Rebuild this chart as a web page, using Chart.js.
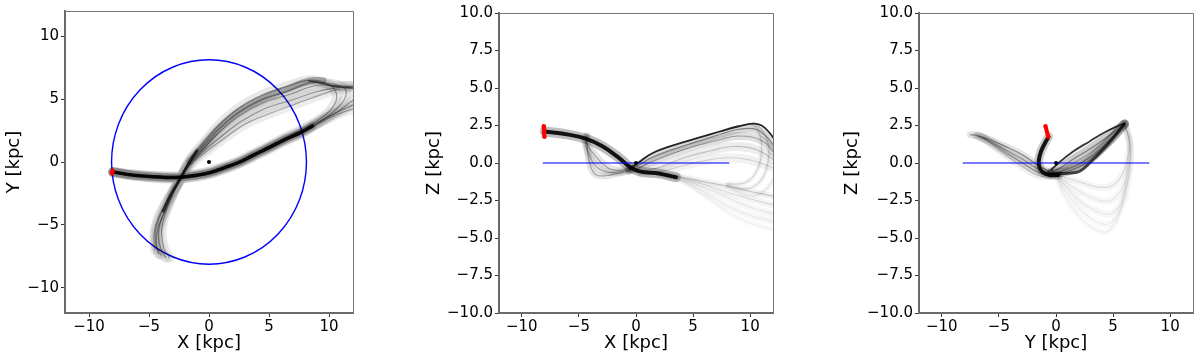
<!DOCTYPE html>
<html><head><meta charset="utf-8">
<script src="https://cdn.jsdelivr.net/npm/chart.js@4.4.1/dist/chart.umd.min.js"></script>
<style>
html,body{margin:0;padding:0;background:#fff;width:1200px;height:360px;overflow:hidden}
.p{position:absolute;top:0;width:400px;height:360px}
canvas{display:block}
</style></head><body>
<div class="p" style="left:0"><canvas id="c1" width="400" height="360"></canvas></div>
<div class="p" style="left:400px"><canvas id="c2" width="400" height="360"></canvas></div>
<div class="p" style="left:800px"><canvas id="c3" width="400" height="360"></canvas></div>
<script>
// ---------- axis ticks ----------
const xTickValues = [-10, -5, 0, 5, 10];
const xyVerticalTicks = [-10, -5, 0, 5, 10];
const zTickValues = [-10, -7.5, -5, -2.5, 0, 2.5, 5, 7.5, 10];
const solarRadius = 8.12;
const galacticCentre = [0, 0, 0];

// ---------- present-day positions (red) ----------
const sunX = [-8.08, -8.06, -8.05, -8.04, -8.02];
const sunY = [-0.92, -0.86, -0.80, -0.74, -0.68];
const sunZ = [2.45, 2.28, 2.10, 1.93, 1.75];

// ---------- X-Y projection (orbit tracks) ----------
const xyCoreA = [[-8.0,-0.8],[-6.25,-1.05],[-4.0,-1.2],[-2.4,-1.21],[-1.0,-1.05],[0.1,-0.84],[1.3,-0.45],[2.56,0.0],[3.7,0.55],[4.77,1.04],[6.42,1.83],[7.66,2.35],[8.6,2.85]];
const xyCoreB = [[-1.0,0.9],[-1.6,0.0],[-2.4,-1.3],[-3.2,-2.6],[-3.8,-3.9]];
const xyCaustic = [[12.3,5.88],[11,5.95],[10,6.1],[9,6.35],[8.3,6.45]];
const xyOrbit1 = [[-8.0,-0.8],[-6.25,-1.0],[-4.0,-1.12],[-2.4,-1.1],[-1.0,-0.95],[0.1,-0.72],[1.3,-0.33],[2.56,0.12],[3.7,0.68],[4.77,1.17],[6.42,1.98],[7.66,2.55],[9.0,3.25],[10.0,4.0],[10.6,4.9],[10.5,5.7],[9.8,6.25],[8.4,6.5],[6.5,6.0],[4.5,5.35],[2.5,4.3],[0.8,2.9],[-0.6,1.35],[-1.6,0.2],[-2.4,-1.3],[-3.2,-2.6],[-4.0,-4.1],[-4.45,-5.4],[-4.45,-6.5],[-4.2,-7.3]];
const xyOrbit2 = [[-8.0,-0.8],[-6.25,-1.08],[-4.0,-1.25],[-2.4,-1.28],[-1.0,-1.12],[0.1,-0.9],[1.3,-0.52],[2.56,-0.06],[3.7,0.48],[4.77,0.98],[6.42,1.78],[7.66,2.3],[9.2,3.2],[10.5,4.1],[11.3,5.0],[11.4,5.7],[10.8,6.1],[9.5,6.3],[8.3,6.3],[6.5,5.6],[4.5,5.0],[2.5,3.95],[0.8,2.6],[-0.6,1.15],[-1.6,0.08],[-2.4,-1.3],[-3.1,-2.6],[-3.8,-4.1],[-4.2,-5.5],[-4.05,-6.8],[-3.6,-7.6]];
const xyOrbit3 = [[-8.0,-0.8],[-6.25,-1.1],[-4.0,-1.3],[-2.4,-1.32],[-1.0,-1.15],[0.1,-0.95],[1.3,-0.58],[2.56,-0.12],[3.7,0.42],[4.77,0.92],[6.42,1.7],[7.66,2.25],[9.5,3.3],[11,4.2],[12.2,5.1],[12.7,5.8],[12,6.0],[10.5,6.05],[9,6.1],[6.8,5.4],[4.5,4.7],[2.5,3.65],[0.8,2.3],[-0.6,0.95],[-1.6,-0.05],[-2.4,-1.35],[-3.0,-2.5],[-3.7,-4.0],[-4.3,-5.4],[-4.35,-6.7],[-4.0,-7.4]];
const xyOrbit4 = [[-8.0,-0.8],[-6.25,-1.02],[-4.0,-1.17],[-2.4,-1.18],[-1.0,-1.0],[0.1,-0.78],[1.3,-0.4],[2.56,0.05],[3.7,0.6],[4.77,1.1],[6.42,1.9],[7.66,2.45],[9.5,3.4],[11,4.1],[12.5,4.8],[13.5,5.6],[12.5,6.0],[11,5.95],[9,5.6],[6.8,4.9],[4.8,4.3],[2.8,3.3],[1.0,2.0],[-0.6,0.75],[-1.6,-0.15],[-2.35,-1.3],[-3.0,-2.6],[-3.6,-4.0],[-3.95,-5.5],[-3.75,-6.9],[-3.3,-7.6]];
const xyOrbit5 = [[-8.0,-0.8],[-6.25,-1.06],[-4.0,-1.22],[-2.4,-1.24],[-1.0,-1.08],[0.1,-0.85],[1.3,-0.47],[2.56,-0.02],[3.7,0.52],[4.77,1.02],[6.42,1.8],[7.66,2.33],[9.5,3.25],[11,3.9],[12.5,4.4],[14,5.0],[13,5.7],[11,5.8],[9.2,5.3],[7.2,4.6],[5.2,3.9],[3.0,3.0],[1.0,1.7],[-0.6,0.55],[-1.6,-0.3],[-2.3,-1.4],[-3.3,-2.8],[-4.2,-4.4],[-4.6,-5.8],[-4.5,-7.0]];
const xyBandTop = [[9.5,6.45],[8.4,6.45],[6.5,5.8],[4.5,5.05],[2.5,4.0],[0.8,2.65],[-0.6,1.15],[-1.6,0.05]];

// ---------- X-Z projection ----------
const xzSunBand = [[-8.0,2.1],[-5.9,1.89],[-4.4,1.62],[-2.94,1.11],[-1.47,0.33],[-0.6,-0.22],[0.3,-0.56],[2.06,-0.71],[3.5,-0.95]];
const xzFan1 = [[2.06,-0.71],[4,-0.95],[6,-1.25],[8,-1.55],[10,-1.9],[12.3,-2.25]];
const xzFan2 = [[2.06,-0.71],[4,-1.0],[6,-1.45],[8,-1.95],[10,-2.4],[12.3,-2.85]];
const xzFan3 = [[2.06,-0.72],[4,-1.05],[6,-1.65],[8,-2.3],[10,-2.95],[12.3,-3.45]];
const xzFan4 = [[2.06,-0.72],[4,-1.15],[6,-1.95],[8,-2.85],[10,-3.5],[12.3,-3.95]];
const xzFan5 = [[2.06,-0.73],[4,-1.2],[6,-2.2],[8,-3.25],[10,-4.0],[12.3,-4.5]];
const xzArc1 = [[8,-1.5],[9.8,-1.7],[11.0,-1.1],[11.6,0.2],[11.5,1.5],[10.8,2.4],[10.3,2.62]];
const xzArc2 = [[8,-1.4],[9.6,-1.3],[10.6,-0.5],[11.0,0.8],[10.8,2.0],[10.2,2.6]];
const xzArc3 = [[8,-1.6],[10.2,-2.2],[11.6,-1.6],[12.3,-0.5]];
const xzUpper1 = [[12.3,1.4],[11.6,2.1],[11.0,2.5],[10.3,2.62],[9.0,2.45],[7.35,2.1],[4.41,1.44],[1.47,0.67],[0,-0.1],[-0.6,-0.35]];
const xzUpper2 = [[12.3,0.9],[11.5,1.7],[10.5,2.25],[9,2.25],[7.35,1.9],[4.41,1.2],[1.47,0.4],[0,-0.25],[-0.6,-0.45]];
const xzUpper3 = [[12.3,0.5],[11,1.5],[9,1.8],[7.35,1.55],[4.41,0.95],[1.47,0.1],[0,-0.4],[-0.6,-0.5]];
const xzUpper4 = [[12.3,0.1],[10.5,0.9],[8.5,1.1],[6.5,0.8],[4.41,0.4],[2,-0.3],[0.3,-0.55]];
const xzUpper5 = [[12.3,-0.4],[10,0.2],[8,0.35],[6,0.15],[4,-0.2],[2,-0.6],[0.5,-0.62]];
const xzLobe1 = [[-0.5,-0.35],[-1.5,-0.5],[-2.4,-0.35],[-3.2,0.15],[-3.9,0.8],[-4.35,1.35],[-4.3,1.8]];
const xzLobe2 = [[-0.5,-0.5],[-1.5,-0.68],[-2.65,-0.85],[-3.5,-0.78],[-4.0,-0.2],[-4.25,0.9],[-4.3,1.7]];
const xzLobe3 = [[-0.5,-0.45],[-1.5,-0.6],[-2.4,-0.62],[-3.3,-0.35],[-4.0,0.35],[-4.4,1.2],[-4.4,1.75]];

// ---------- Y-Z projection ----------
const yzStem = [[-0.65,1.75],[-0.95,1.35],[-1.3,0.8],[-1.5,0.2],[-1.45,-0.3],[-1.15,-0.62],[-0.6,-0.78],[0.2,-0.8]];
const yzDown1 = [[0,-0.8],[1.2,-1.05],[2.4,-1.35],[3.6,-1.6],[4.8,-1.55],[5.7,-0.9],[6.3,0.4],[6.4,1.6],[6.0,2.6]];
const yzDown2 = [[0,-0.8],[1.0,-1.35],[2.3,-2.0],[3.6,-2.45],[4.8,-2.5],[5.8,-1.7],[6.4,-0.3],[6.5,1.3],[6.0,2.6]];
const yzDown3 = [[0,-0.8],[0.9,-1.6],[2.2,-2.6],[3.5,-3.2],[4.7,-3.4],[5.7,-2.7],[6.35,-0.9],[6.55,1.0],[6.0,2.6]];
const yzDown4 = [[0,-0.75],[0.75,-1.8],[2.0,-3.0],[3.4,-3.85],[4.65,-4.05],[5.65,-3.1],[6.3,-1.2],[6.5,0.8],[6.0,2.6]];
const yzDown5 = [[0,-0.7],[0.6,-2.0],[1.76,-3.33],[3.2,-4.33],[4.55,-4.56],[5.58,-3.33],[6.3,-0.22],[6.46,1.55],[6.0,2.6]];
const yzWing1 = [[6.0,2.65],[4.4,2.1],[2.94,1.44],[1.47,0.75],[0.3,0.05],[-0.4,-0.45]];
const yzWing2 = [[6.0,2.6],[4.5,1.75],[3.0,0.95],[1.5,0.25],[0.3,-0.35],[-0.4,-0.6]];
const yzWing3 = [[6.0,2.6],[4.6,1.45],[3.2,0.5],[1.8,-0.15],[0.5,-0.55],[-0.4,-0.7]];
const yzWing4 = [[6.0,2.6],[5.0,1.65],[4.0,0.8],[3.0,0.05],[2.05,-0.56],[1.0,-0.68],[0,-0.72],[-0.6,-0.75]];
const yzWing5 = [[6.0,2.6],[4.8,1.55],[3.6,0.65],[2.4,-0.1],[1.2,-0.5],[0,-0.7],[-0.5,-0.72]];
const yzLeft1 = [[-0.5,-0.6],[-1.47,-0.2],[-2.94,0.55],[-4.41,1.11],[-6.0,1.62],[-6.9,1.85],[-7.5,1.88]];
const yzLeft2 = [[-0.5,-0.68],[-1.47,-0.45],[-2.94,0.25],[-4.41,0.85],[-5.9,1.5],[-7.0,1.82]];
const yzLeft3 = [[-0.5,-0.75],[-1.47,-0.65],[-2.94,0.0],[-4.41,0.7],[-5.88,1.44],[-6.8,1.8]];
const yzLeft4 = [[-0.3,-0.85],[-1.47,-0.85],[-2.94,-0.22],[-4.41,0.55],[-5.7,1.3],[-6.5,1.75]];

// ---------- helpers ----------
Chart.defaults.font.family = "'DejaVu Sans', sans-serif";
function pts(arr){ return arr.map(p => ({x: p[0], y: p[1]})); }
function track(arr, color, width, tension){
  return {data: pts(arr), showLine: true, borderColor: color, backgroundColor: color,
    borderWidth: width, pointRadius: 0, pointHoverRadius: 0,
    tension: tension === undefined ? 0.4 : tension, clip: 0,
    borderCapStyle: 'round', borderJoinStyle: 'round'};
}
// an orbit bundle: a thin line plus a soft, wide halo
function band(arr, thinAlpha, wideAlpha, wideWidth){
  return [track(arr, 'rgba(0,0,0,' + thinAlpha + ')', 1.2),
          track(arr, 'rgba(0,0,0,' + wideAlpha + ')', wideWidth)];
}
function dots(xs, ys, color, r){
  return {data: xs.map((x, i) => ({x: x, y: ys[i]})), showLine: false, pointRadius: r,
    pointHoverRadius: r, pointBackgroundColor: color, pointBorderWidth: 0,
    borderColor: color, backgroundColor: color, clip: 0};
}
const fmtInt = v => (v < 0 ? '\u2212' : '') + Math.abs(v);
const fmt1 = v => (v < 0 ? '\u2212' : '') + Math.abs(v).toFixed(1);

const framePlugin = { id: 'frame', afterDatasetsDraw(chart){
  const {ctx, chartArea: a} = chart;
  ctx.save(); ctx.strokeStyle = '#777'; ctx.lineWidth = 1;
  ctx.beginPath(); ctx.moveTo(a.left, a.top + 0.5); ctx.lineTo(a.right + 0.5, a.top + 0.5);
  ctx.lineTo(a.right + 0.5, a.bottom); ctx.stroke(); ctx.restore();
}};
const circlePlugin = { id: 'solarCircle', beforeDatasetsDraw(chart){
  const xs = chart.scales.x, ys = chart.scales.y, ctx = chart.ctx;
  const cx = xs.getPixelForValue(galacticCentre[0]), cy = ys.getPixelForValue(galacticCentre[1]);
  const rx = Math.abs(xs.getPixelForValue(solarRadius) - cx);
  const ry = Math.abs(ys.getPixelForValue(solarRadius) - cy);
  ctx.save(); ctx.beginPath(); ctx.ellipse(cx, cy, rx, ry, 0, 0, 2 * Math.PI);
  ctx.strokeStyle = '#0000ff'; ctx.lineWidth = 1.4; ctx.stroke(); ctx.restore();
}};

function makeChart(id, o){
  return new Chart(document.getElementById(id), {
    type: 'scatter',
    data: {datasets: o.datasets},
    options: {
      responsive: false, animation: false, events: [],
      layout: {padding: {top: o.top, right: o.right, left: 0, bottom: 0}},
      plugins: {legend: {display: false}, tooltip: {enabled: false}},
      scales: {
        x: {type: 'linear', min: -12, max: 12,
          afterBuildTicks: s => { s.ticks = xTickValues.map(v => ({value: v})); },
          afterFit: s => { s.height = 47; },
          ticks: {callback: v => fmtInt(v), color: '#000', font: {size: 15}, padding: 1, maxRotation: 0, autoSkip: false},
          grid: {display: true, drawOnChartArea: false, drawTicks: true, tickLength: 4, color: '#333'},
          border: {display: true, color: '#6a6a6a', width: 2},
          title: {display: true, text: o.xTitle, color: '#000', font: {size: 18}, padding: {top: 0, bottom: 6}}
        },
        y: {type: 'linear', min: o.yMin, max: o.yMax,
          afterBuildTicks: s => { s.ticks = o.yTicks.map(v => ({value: v})); },
          afterFit: s => { s.width = o.yWidth; },
          ticks: {callback: v => o.yFmt(v), color: '#000', font: {size: 15}, padding: 2, autoSkip: false},
          grid: {display: true, drawOnChartArea: false, drawTicks: true, tickLength: 4, color: '#333'},
          border: {display: true, color: '#6a6a6a', width: 2},
          title: {display: true, text: o.yTitle, color: '#000', font: {size: 18}, padding: {top: o.yTitlePad, bottom: 0}}
        }
      }
    },
    plugins: o.plugins
  });
}

// ---------- panel 1 : X-Y ----------
makeChart('c1', {
  top: 7, right: 47, yWidth: 65, yMin: -12, yMax: 12, yTicks: xyVerticalTicks, yFmt: fmtInt,
  xTitle: 'X [kpc]', yTitle: 'Y [kpc]', yTitlePad: 4,
  plugins: [circlePlugin, framePlugin],
  datasets: [
    dots(sunX, sunY, '#ff0000', 2),
    dots([galacticCentre[0]], [galacticCentre[1]], '#000', 2),
    track(xyCoreA, 'rgba(0,0,0,0.9)', 3.5),
    track(xyCoreA, 'rgba(0,0,0,0.2)', 8),
    track(xyCoreB, 'rgba(0,0,0,0.65)', 3),
    track(xyCaustic, 'rgba(0,0,0,0.65)', 1.3),
    track(xyBandTop, 'rgba(0,0,0,0.25)', 7),
    ...band(xyOrbit1, 0.35, 0.09, 10),
    ...band(xyOrbit2, 0.35, 0.09, 10),
    ...band(xyOrbit3, 0.35, 0.09, 10),
    ...band(xyOrbit4, 0.35, 0.09, 10),
    ...band(xyOrbit5, 0.3, 0.07, 10)
  ]
});

// ---------- panel 2 : X-Z ----------
makeChart('c2', {
  top: 13, right: 27, yWidth: 99, yMin: -10, yMax: 10, yTicks: zTickValues, yFmt: fmt1,
  xTitle: 'X [kpc]', yTitle: 'Z [kpc]', yTitlePad: 24,
  plugins: [framePlugin],
  datasets: [
    dots(sunX, sunZ, '#ff0000', 2.3),
    dots([galacticCentre[0]], [galacticCentre[2]], '#000', 2),
    track([[-solarRadius, 0], [solarRadius, 0]], 'rgba(0,0,255,0.7)', 1.5, 0),
    track(xzSunBand, 'rgba(0,0,0,0.9)', 4),
    track(xzSunBand, 'rgba(0,0,0,0.25)', 10),
    track(xzUpper1, 'rgba(0,0,0,0.85)', 1.8),
    ...band(xzUpper2, 0.4, 0.15, 8),
    ...band(xzUpper3, 0.3, 0.12, 8),
    ...band(xzUpper4, 0.2, 0.07, 9),
    ...band(xzUpper5, 0.15, 0.05, 9),
    ...band(xzLobe1, 0.3, 0.1, 8),
    ...band(xzLobe2, 0.3, 0.1, 7),
    ...band(xzLobe3, 0.3, 0.1, 7),
    ...band(xzFan1, 0.2, 0.05, 6),
    ...band(xzFan2, 0.12, 0.04, 7),
    ...band(xzFan3, 0.08, 0.03, 7),
    ...band(xzFan4, 0.07, 0.03, 7),
    ...band(xzFan5, 0.06, 0.02, 6),
    ...band(xzArc1, 0.15, 0.04, 5),
    ...band(xzArc2, 0.15, 0.04, 5),
    ...band(xzArc3, 0.08, 0.03, 5)
  ]
});

// ---------- panel 3 : Y-Z ----------
makeChart('c3', {
  top: 13, right: 7, yWidth: 119, yMin: -10, yMax: 10, yTicks: zTickValues, yFmt: fmt1,
  xTitle: 'Y [kpc]', yTitle: 'Z [kpc]', yTitlePad: 42,
  plugins: [framePlugin],
  datasets: [
    dots(sunY, sunZ, '#ff0000', 2.2),
    dots([galacticCentre[1]], [galacticCentre[2]], '#000', 2),
    track([[-solarRadius, 0], [solarRadius, 0]], 'rgba(0,0,255,0.7)', 1.5, 0),
    track(yzStem, 'rgba(0,0,0,0.9)', 4),
    track(yzStem, 'rgba(0,0,0,0.2)', 9),
    track(yzWing1, 'rgba(0,0,0,0.8)', 1.8),
    ...band(yzWing2, 0.4, 0.2, 9),
    ...band(yzWing3, 0.4, 0.2, 9),
    ...band(yzWing5, 0.4, 0.2, 9),
    track(yzWing4, 'rgba(0,0,0,0.7)', 3),
    ...band(yzLeft1, 0.4, 0.1, 7),
    ...band(yzLeft2, 0.3, 0.1, 8),
    ...band(yzLeft3, 0.3, 0.1, 8),
    ...band(yzLeft4, 0.15, 0.06, 8),
    ...band(yzDown1, 0.12, 0.04, 7),
    ...band(yzDown2, 0.08, 0.03, 7),
    ...band(yzDown3, 0.07, 0.03, 7),
    ...band(yzDown4, 0.06, 0.025, 7),
    ...band(yzDown5, 0.06, 0.02, 6)
  ]
});
</script>
</body></html>
